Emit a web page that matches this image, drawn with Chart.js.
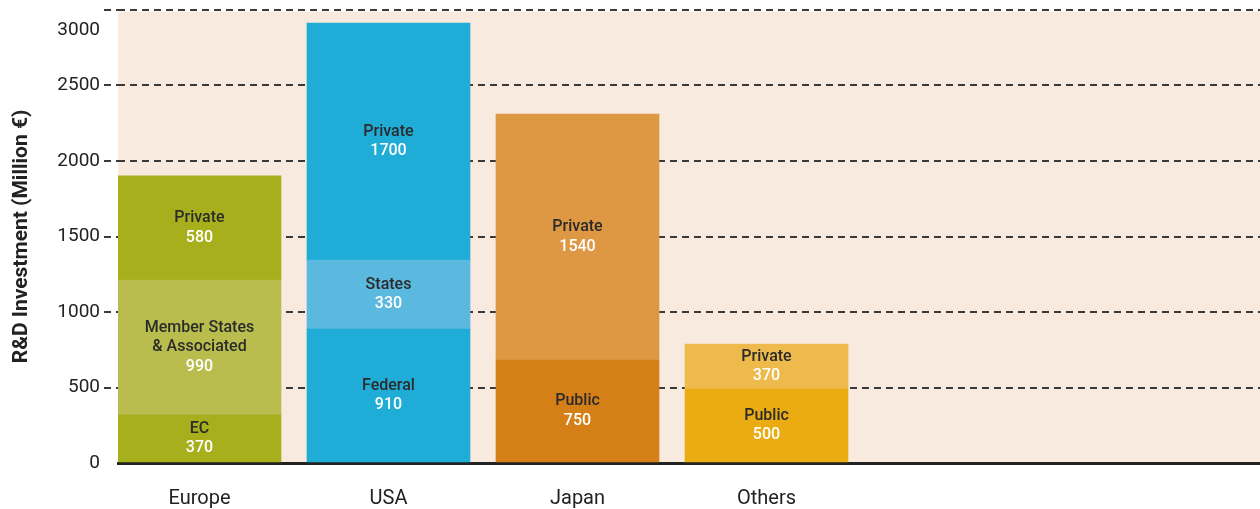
<!DOCTYPE html>
<html>
<head>
<meta charset="utf-8">
<script src="https://cdn.jsdelivr.net/npm/chart.js@4.4.1/dist/chart.umd.min.js"></script>
<style>
  html, body { margin: 0; padding: 0; background: #fff; }
  #wrap { width: 1260px; height: 509px; }
</style>
</head>
<body>
<div id="wrap"><canvas id="rdChart"></canvas></div>
<script>
// data
const regions = ['Europe', 'USA', 'Japan', 'Others'];
const yTicks = [0, 500, 1000, 1500, 2000, 2500, 3000];

// segment heights as drawn (bottom -> top)
const baseHeights = [318, 887, 682, 490];
const midHeights = [894, 457, 1629, 298];
const topHeights = [689, 1570, null, null];

// printed names and figures inside the segments
const baseNames = ['EC', 'Federal', 'Public', 'Public'];
const baseFigures = [370, 910, 750, 500];
const midNames = ['Member States\n& Associated', 'States', 'Private', 'Private'];
const midFigures = [990, 330, 1540, 370];
const topNames = ['Private', 'Private', null, null];
const topFigures = [580, 1700, null, null];

const baseColors = ['#A8AF1C', '#1FADD8', '#D57F17', '#EAAC12'];
const midColors = ['#B8BD4E', '#5BB8DE', '#DE9743', '#EFBA4C'];
const topColors = ['#A8AF1C', '#1FADD8', '#DE9743', '#EFBA4C'];

function toPoints(arr) {
  return arr.map((v, i) => ({ x: i, y: v }));
}

const FONT = 'Roboto, "Liberation Sans", sans-serif';

// beige plot background
const plotBg = {
  id: 'plotBg',
  beforeDraw(chart) {
    const { ctx, chartArea: a } = chart;
    ctx.save();
    ctx.fillStyle = '#F8EADF';
    ctx.fillRect(a.left, a.top + 1.5, a.right - a.left, a.bottom - a.top - 1.5);
    ctx.restore();
  }
};

// names + figures centred in each segment
const segLabels = {
  id: 'segLabels',
  afterDatasetsDraw(chart) {
    const ctx = chart.ctx;
    ctx.save();
    ctx.textAlign = 'center';
    ctx.textBaseline = 'middle';
    chart.data.datasets.forEach((ds, di) => {
      const meta = chart.getDatasetMeta(di);
      meta.data.forEach((bar, i) => {
        if (!ds.names[i]) return;
        const lines = ds.names[i].split('\n');
        const lh = 19.5;
        const total = lines.length + 1;
        const cy = (bar.y + bar.base) / 2;
        let y = cy - (total - 1) * lh / 2;
        ctx.font = '500 16px ' + FONT;
        ctx.fillStyle = '#2b2b2b';
        lines.forEach(l => { ctx.fillText(l, bar.x, y); y += lh; });
        ctx.fillStyle = '#ffffff';
        ctx.fillText(String(ds.figures[i]), bar.x, y);
      });
    });
    ctx.restore();
  }
};

// the 3000 label sits a bit below its line in the original
const topTick = {
  id: 'topTick',
  afterDraw(chart) {
    const ctx = chart.ctx;
    const y = chart.scales.y;
    ctx.save();
    ctx.font = '19px ' + FONT;
    ctx.fillStyle = '#222';
    ctx.textAlign = 'right';
    ctx.textBaseline = 'middle';
    ctx.fillText(String(yTicks[yTicks.length - 1]), 100, y.getPixelForValue(yTicks[yTicks.length - 1]) + 20);
    ctx.restore();
  }
};

new Chart(document.getElementById('rdChart'), {
  type: 'bar',
  data: {
    datasets: [
      { data: toPoints(baseHeights), backgroundColor: baseColors, names: baseNames, figures: baseFigures },
      { data: toPoints(midHeights), backgroundColor: midColors, names: midNames, figures: midFigures },
      { data: toPoints(topHeights), backgroundColor: topColors, names: topNames, figures: topFigures }
    ]
  },
  options: {
    responsive: true,
    maintainAspectRatio: false,
    animation: false,
    layout: { padding: { top: 10, right: 0, left: 0, bottom: 0 } },
    datasets: { bar: { barThickness: 163, borderWidth: 0 } },
    plugins: {
      legend: { display: false },
      tooltip: { enabled: false }
    },
    scales: {
      x: {
        type: 'linear',
        stacked: true,
        offset: false,
        min: -0.4312,
        max: 5.611,
        afterFit: s => { s.height = 46; s.paddingLeft = 0; s.paddingRight = 0; },
        grid: { display: false, drawTicks: false, offset: false },
        border: { display: true, color: '#222', width: 3 },
        ticks: {
          stepSize: 1,
          includeBounds: false,
          autoSkip: false,
          maxRotation: 0,
          padding: 24,
          color: '#222',
          font: { family: FONT, size: 20 },
          callback: v => (Number.isInteger(v) && regions[v]) ? regions[v] : ''
        }
      },
      y: {
        stacked: true,
        min: yTicks[0],
        max: yTicks[yTicks.length - 1],
        afterFit: s => { s.width = 118; s.paddingTop = 0; s.paddingBottom = 0; },
        afterBuildTicks: s => { s.ticks = yTicks.map(v => ({ value: v })); },
        grid: {
          color: c => c.tick && c.tick.value === 0 ? 'rgba(0,0,0,0)' : '#3a3a3a',
          lineWidth: 2,
          drawTicks: true,
          tickLength: 14,
          tickBorderDash: [7, 5]
        },
        border: { display: false, dash: [7, 5] },
        ticks: {
          padding: 4,
          color: '#222',
          font: { family: FONT, size: 19 },
          callback: v => v === yTicks[yTicks.length - 1] ? '' : v
        },
        title: {
          display: true,
          text: 'R&D Investment (Million €)',
          color: '#222',
          font: { family: FONT, size: 21, weight: 'bold' },
          padding: { top: 9, bottom: 0 }
        }
      }
    }
  },
  plugins: [plotBg, segLabels, topTick]
});
</script>
</body>
</html>
